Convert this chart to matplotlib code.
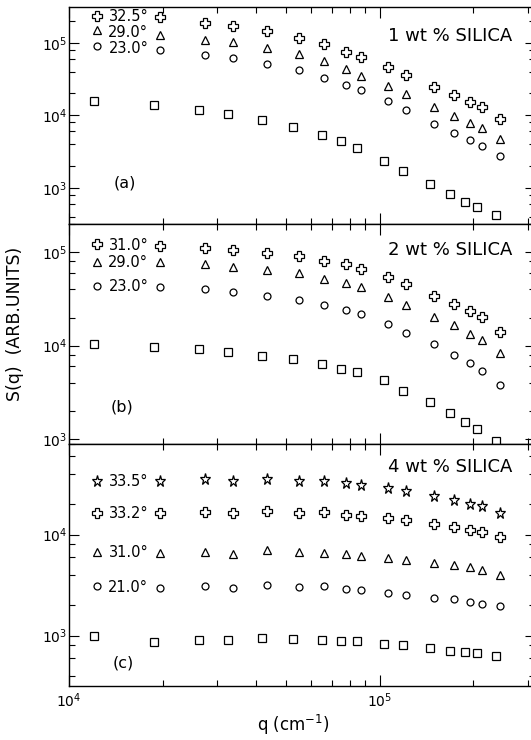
import numpy as np
import matplotlib.pyplot as plt
from matplotlib.ticker import LogLocator, NullFormatter, LogFormatterMathtext

# scattering vector (cm^-1); squares sit at slightly different q than the other symbols
q_sq = [1.20e4, 1.88e4, 2.63e4, 3.25e4, 4.19e4, 5.28e4, 6.51e4, 7.52e4,
        8.45e4, 1.03e5, 1.19e5, 1.45e5, 1.69e5, 1.88e5, 2.06e5, 2.37e5]
q_pt = [1.23e4, 1.96e4, 2.75e4, 3.38e4, 4.33e4, 5.48e4, 6.64e4, 7.80e4,
        8.72e4, 1.06e5, 1.22e5, 1.50e5, 1.74e5, 1.96e5, 2.13e5, 2.44e5]

# (a) 1 wt % silica
a_325 = [2.36e5, 2.23e5, 1.85e5, 1.72e5, 1.43e5, 1.17e5, 9.5e4, 7.4e4,
         6.3e4, 4.7e4, 3.6e4, 2.42e4, 1.88e4, 1.50e4, 1.31e4, 8.9e3]
a_290 = [1.50e5, 1.28e5, 1.09e5, 1.01e5, 8.4e4, 7.1e4, 5.6e4, 4.3e4,
         3.5e4, 2.55e4, 1.96e4, 1.31e4, 9.8e3, 7.7e3, 6.6e3, 4.7e3]
a_230 = [9.0e4, 7.9e4, 6.8e4, 6.1e4, 5.1e4, 4.2e4, 3.3e4, 2.6e4,
         2.2e4, 1.55e4, 1.18e4, 7.6e3, 5.7e3, 4.5e3, 3.8e3, 2.7e3]
a_sq = [1.58e4, 1.38e4, 1.20e4, 1.04e4, 8.7e3, 6.8e3, 5.3e3, 4.35e3,
        3.5e3, 2.36e3, 1.68e3, 1.12e3, 8.2e2, 6.3e2, 5.4e2, 4.2e2]

# (b) 2 wt % silica
b_310 = [1.21e5, 1.16e5, 1.11e5, 1.05e5, 9.8e4, 9.2e4, 8.1e4, 7.4e4,
         6.6e4, 5.4e4, 4.6e4, 3.4e4, 2.8e4, 2.33e4, 2.03e4, 1.39e4]
b_290 = [7.8e4, 7.8e4, 7.4e4, 7.0e4, 6.5e4, 6.0e4, 5.2e4, 4.7e4,
         4.25e4, 3.3e4, 2.75e4, 2.03e4, 1.65e4, 1.33e4, 1.14e4, 8.3e3]
b_230 = [4.33e4, 4.25e4, 4.05e4, 3.73e4, 3.4e4, 3.1e4, 2.73e4, 2.43e4,
         2.18e4, 1.71e4, 1.37e4, 1.03e4, 8.0e3, 6.5e3, 5.4e3, 3.8e3]
b_sq = [1.03e4, 9.7e3, 9.3e3, 8.6e3, 7.8e3, 7.2e3, 6.4e3, 5.6e3,
        5.2e3, 4.25e3, 3.3e3, 2.47e3, 1.9e3, 1.51e3, 1.28e3, 9.6e2]

# (c) 4 wt % silica
c_335 = [3.43e4, 3.37e4, 3.58e4, 3.37e4, 3.56e4, 3.43e4, 3.37e4, 3.25e4,
         3.13e4, 2.9e4, 2.73e4, 2.4e4, 2.22e4, 2.03e4, 1.91e4, 1.64e4]
c_332 = [1.64e4, 1.62e4, 1.68e4, 1.62e4, 1.73e4, 1.64e4, 1.66e4, 1.58e4,
         1.54e4, 1.46e4, 1.39e4, 1.28e4, 1.19e4, 1.12e4, 1.05e4, 9.4e3]
c_310 = [6.8e3, 6.6e3, 6.8e3, 6.5e3, 7.0e3, 6.7e3, 6.6e3, 6.5e3,
         6.2e3, 5.9e3, 5.65e3, 5.2e3, 5.05e3, 4.75e3, 4.5e3, 4.0e3]
c_210 = [3.08e3, 2.96e3, 3.08e3, 2.96e3, 3.18e3, 3.04e3, 3.08e3, 2.9e3,
         2.81e3, 2.64e3, 2.53e3, 2.36e3, 2.31e3, 2.14e3, 2.07e3, 1.98e3]
c_sq = [1.0e3, 8.6e2, 9.1e2, 9.1e2, 9.5e2, 9.3e2, 9.1e2, 8.8e2,
        8.8e2, 8.3e2, 8.0e2, 7.5e2, 7.1e2, 6.8e2, 6.7e2, 6.2e2]

W, H = 531, 740
fig = plt.figure(figsize=(W / 100, H / 100), dpi=100)
plt.rcParams['font.family'] = 'DejaVu Sans'

LEFT, RIGHT = 69, 535


def add_panel(top, bottom):
    return fig.add_axes([LEFT / W, 1 - bottom / H, (RIGHT - LEFT) / W, (bottom - top) / H])


def px(ax, x, y):
    # pixel position (from the figure's top-left corner) -> axes fraction
    bb = ax.get_position()
    return (x / W - bb.x0) / bb.width, ((1 - y / H) - bb.y0) / bb.height


marker_style = {
    's': dict(ms=5.6, mew=0.9),
    'o': dict(ms=5.0, mew=0.9),
    '^': dict(ms=5.4, mew=0.9),
    'P': dict(ms=7.2, mew=0.9),
    '*': dict(ms=8.3, mew=0.9),
}


def series(ax, q, s, marker, label=None):
    ax.plot(q, s, ls='none', marker=marker, mfc='none', mec='black',
            **marker_style[marker])
    if label:
        xm = np.sqrt(q[0] * q[1])
        ym = np.sqrt(s[0] * s[1])
        ax.text(xm, ym, label, ha='center', va='center', fontsize=10.5)


ax_a = add_panel(6.5, 224)
ax_b = add_panel(224, 443.5)
ax_c = add_panel(443.5, 686)

series(ax_a, q_pt, a_325, 'P', '32.5°')
series(ax_a, q_pt, a_290, '^', '29.0°')
series(ax_a, q_pt, a_230, 'o', '23.0°')
series(ax_a, q_sq, a_sq, 's')
ax_a.set_ylim(10 ** 2.5, 10 ** 5.5)

series(ax_b, q_pt, b_310, 'P', '31.0°')
series(ax_b, q_pt, b_290, '^', '29.0°')
series(ax_b, q_pt, b_230, 'o', '23.0°')
series(ax_b, q_sq, b_sq, 's')
ax_b.set_ylim(900, 2e5)

series(ax_c, q_pt, c_335, '*', '33.5°')
series(ax_c, q_pt, c_332, 'P', '33.2°')
series(ax_c, q_pt, c_310, '^', '31.0°')
series(ax_c, q_pt, c_210, 'o', '21.0°')
series(ax_c, q_sq, c_sq, 's')
ax_c.set_ylim(10 ** 2.5, 8e4)

for ax in (ax_a, ax_b, ax_c):
    ax.set_xscale('log')
    ax.set_yscale('log')
    ax.set_xlim(1e4, 10 ** 5.5)
    ax.xaxis.set_major_locator(LogLocator(base=10))
    ax.xaxis.set_minor_locator(LogLocator(base=10, subs=np.arange(2, 10)))
    ax.yaxis.set_major_locator(LogLocator(base=10))
    ax.yaxis.set_minor_locator(LogLocator(base=10, subs=(2, 4, 6, 8)))
    ax.yaxis.set_major_formatter(LogFormatterMathtext())
    ax.yaxis.set_minor_formatter(NullFormatter())
    ax.xaxis.set_minor_formatter(NullFormatter())
    ax.tick_params(which='both', direction='in', top=True, right=True,
                   width=0.8, labelsize=10)
    ax.tick_params(axis='y', which='major', length=7.5, pad=1.5)
    ax.tick_params(axis='y', which='minor', length=4.5)
    ax.tick_params(axis='x', which='major', length=8, pad=4)
    ax.tick_params(axis='x', which='minor', length=4.5)
    for sp in ax.spines.values():
        sp.set_linewidth(1.0)

ax_a.tick_params(axis='x', labelbottom=False)
ax_b.tick_params(axis='x', labelbottom=False)
ax_c.xaxis.set_major_formatter(LogFormatterMathtext())

# sample concentrations and panel letters
for ax, txt, y in ((ax_a, '1 wt % SILICA', 36), (ax_b, '2 wt % SILICA', 250),
                   (ax_c, '4 wt % SILICA', 467)):
    x0, y0 = px(ax, 512, y)
    ax.text(x0, y0, txt, transform=ax.transAxes, ha='right', va='center',
            fontsize=13)

for ax, txt, x, y in ((ax_a, '(a)', 125, 183), (ax_b, '(b)', 122, 407),
                      (ax_c, '(c)', 123, 663)):
    x0, y0 = px(ax, x, y)
    ax.text(x0, y0, txt, transform=ax.transAxes, ha='center', va='center',
            fontsize=11.5)

fig.text(15 / W, 1 - 324 / H, 'S(q)  (ARB.UNITS)', rotation=90,
         ha='center', va='center', fontsize=12.5)
fig.text(293 / W, 1 - 725 / H, 'q (cm$^{-1}$)', ha='center', va='center',
         fontsize=12)

fig.savefig('out.png', dpi=100, facecolor='white')
